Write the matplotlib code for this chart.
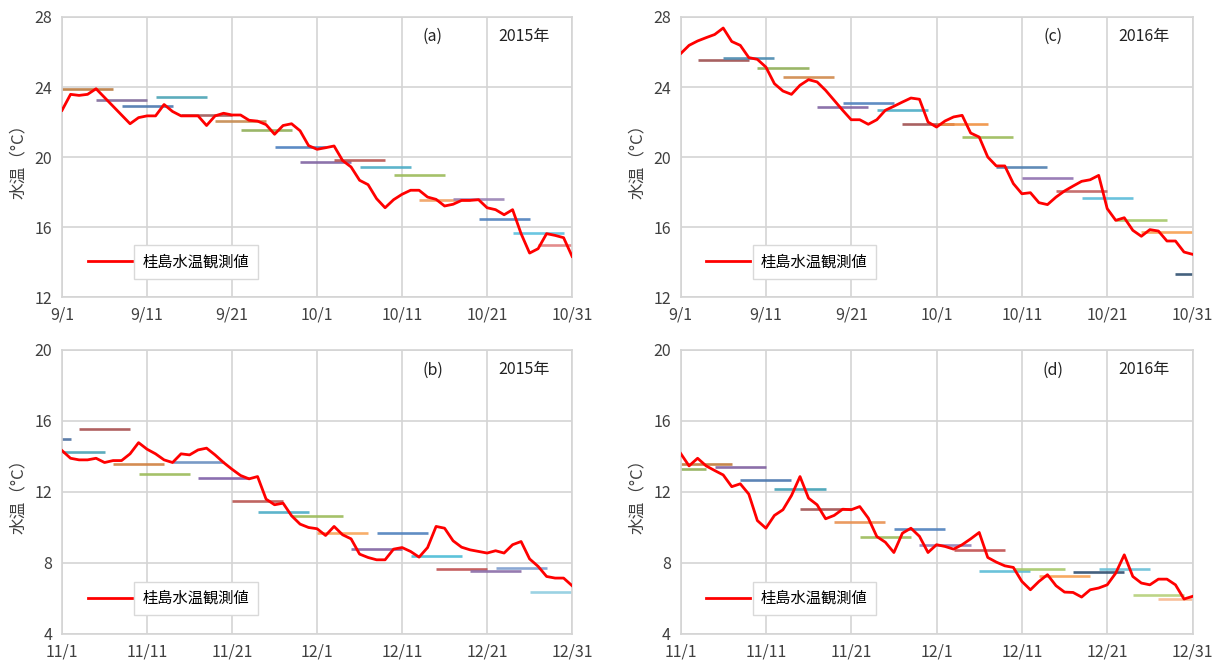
import matplotlib
matplotlib.use("Agg")
from matplotlib import pyplot as plt

# 桂島 水温 観測値 (日平均) と 予測値 (7日間)
# 横軸は各期間の初日からの日数

sep_oct_ticks = ["9/1", "9/11", "9/21", "10/1", "10/11", "10/21", "10/31"]
nov_dec_ticks = ["11/1", "11/11", "11/21", "12/1", "12/11", "12/21", "12/31"]

# (a) 2015年 9-10月
obs_a = [22.67, 23.58, 23.52, 23.58, 23.9, 23.4, 22.9, 22.4, 21.9, 22.25,
         22.35, 22.35, 23.0, 22.6, 22.35, 22.35, 22.35, 21.8, 22.35, 22.5,
         22.4, 22.4, 22.1, 22.05, 21.85, 21.3, 21.8, 21.9, 21.5, 20.65,
         20.44, 20.53, 20.63, 19.8, 19.43, 18.67, 18.42, 17.62, 17.1, 17.56,
         17.87, 18.1, 18.1, 17.71, 17.58, 17.2, 17.3, 17.52, 17.52, 17.56,
         17.1, 16.99, 16.7, 16.99, 15.62, 14.51, 14.76, 15.62, 15.52, 15.39,
         14.32]
fc_start_a = [0, 4, 7, 11, 14, 18, 21, 25, 28, 32, 35, 39, 42, 46, 49, 53, 56]
fc_val_a = [23.89, 23.28, 22.9, 23.43, 22.42, 22.06, 21.56, 20.57, 19.7,
            19.85, 19.43, 19.0, 17.56, 17.58, 16.46, 15.68, 15.0]

# (b) 2015年 11-12月
obs_b = [14.33, 13.9, 13.81, 13.81, 13.9, 13.66, 13.77, 13.77, 14.15, 14.78,
         14.41, 14.15, 13.81, 13.66, 14.15, 14.09, 14.37, 14.47, 14.09, 13.66,
         13.28, 12.93, 12.74, 12.87, 11.6, 11.28, 11.37, 10.66, 10.19, 10.0,
         9.93, 9.55, 10.06, 9.59, 9.36, 8.5, 8.31, 8.18, 8.18, 8.78,
         8.87, 8.65, 8.33, 8.87, 10.06, 9.96, 9.25, 8.89, 8.74, 8.65,
         8.56, 8.69, 8.56, 9.03, 9.21, 8.23, 7.81, 7.24, 7.15, 7.15,
         6.72]
fc_start_b = [-5, -1, 2, 6, 9, 13, 16, 20, 23, 27, 30, 34, 37, 41, 44, 48, 51, 55]
fc_val_b = [14.97, 14.28, 15.55, 13.58, 13.0, 13.71, 12.78, 11.52, 10.9,
            10.66, 9.68, 8.78, 9.68, 8.37, 7.65, 7.56, 7.71, 6.34]

# (c) 2016年 9-10月
obs_c = [25.9, 26.38, 26.63, 26.82, 27.0, 27.37, 26.6, 26.38, 25.68, 25.58,
         25.14, 24.19, 23.77, 23.58, 24.1, 24.42, 24.29, 23.81, 23.24, 22.67,
         22.13, 22.13, 21.87, 22.13, 22.67, 22.9, 23.14, 23.37, 23.3, 22.0,
         21.71, 22.06, 22.29, 22.38, 21.37, 21.14, 20.0, 19.49, 19.49, 18.48,
         17.9, 17.96, 17.39, 17.28, 17.71, 18.06, 18.34, 18.61, 18.7, 18.95,
         17.05, 16.38, 16.53, 15.81, 15.47, 15.85, 15.77, 15.2, 15.2, 14.57,
         14.44]
fc_start_c = [2, 5, 9, 12, 16, 19, 23, 26, 30, 33, 37, 40, 44, 47, 51, 54, 58]
fc_val_c = [25.56, 25.66, 25.09, 24.57, 22.86, 23.1, 22.67, 21.87, 21.87,
            21.14, 19.43, 18.8, 18.06, 17.66, 16.38, 15.71, 13.3]

# (d) 2016年 11-12月
obs_d = [14.18, 13.47, 13.9, 13.47, 13.21, 12.96, 12.3, 12.46, 11.88, 10.39,
         9.96, 10.68, 11.0, 11.8, 12.87, 11.65, 11.28, 10.49, 10.68, 11.03,
         11.0, 11.18, 10.53, 9.49, 9.17, 8.59, 9.68, 9.96, 9.5, 8.59,
         9.03, 8.93, 8.78, 9.03, 9.36, 9.72, 8.31, 8.05, 7.84, 7.75,
         6.96, 6.49, 6.96, 7.34, 6.72, 6.36, 6.34, 6.08, 6.49, 6.59,
         6.77, 7.43, 8.46, 7.24, 6.87, 6.77, 7.09, 7.09, 6.77, 5.97,
         6.12]
fc_start_d = [-3, 0, 4, 7, 11, 14, 18, 21, 25, 28, 32, 35, 39, 42, 46, 49, 53, 56]
fc_val_d = [13.28, 13.58, 13.43, 12.68, 12.18, 11.03, 10.3, 9.44, 9.93, 8.99,
            8.74, 7.56, 7.68, 7.29, 7.49, 7.65, 6.17, 5.97]

# 予測線の色 (エクセル風)
colors_a = ["#b97a3e", "#7f6a9a", "#4a77ae", "#4aa3b5", "#9e5a5a", "#c68a4f",
            "#8fae57", "#4a7fbf", "#8064a2", "#b85450", "#4bacc6", "#9bbb59",
            "#f0a060", "#9983b5", "#4f81bd", "#5bc0de", "#e08080"]
colors_b = ["#4a6fa0", "#4aa3b5", "#a85050", "#d08040", "#9bbb59", "#6a8fc0",
            "#7f5fa8", "#b85450", "#4bacc6", "#9bbb59", "#f7a55a", "#8064a2",
            "#4f81bd", "#4bbcd6", "#c05050", "#8a6ca8", "#7f9fd0", "#90cde0"]
colors_c = ["#9e5050", "#4a8ab0", "#8fae57", "#d0884a", "#8064a2", "#4f81bd",
            "#4bacc6", "#a05050", "#f09040", "#9bbb59", "#4f7fb0", "#9070b0",
            "#c06060", "#5bbcda", "#a5c86a", "#f7a050", "#2f5070"]
colors_d = ["#8fae57", "#c07a3a", "#7f5fa0", "#4a77ae", "#3fa0b5", "#a05050",
            "#e89050", "#9bbb59", "#4f81bd", "#9080b8", "#c05050", "#5bbcd6",
            "#a5c86a", "#f7a050", "#2f4f70", "#6bc0d8", "#b5d07a", "#f8b890"]

plt.rcParams["font.family"] = ["Noto Sans CJK JP", "DejaVu Sans"]

fig = plt.figure(figsize=(12.24, 6.64), dpi=100)

panels = [
    ([0.0507, 0.5527, 0.4167, 0.4217], obs_a, fc_start_a, fc_val_a, colors_a,
     sep_oct_ticks, (12, 28), "(a)", "2015年"),
    ([0.0507, 0.0452, 0.4167, 0.4277], obs_b, fc_start_b, fc_val_b, colors_b,
     nov_dec_ticks, (4, 20), "(b)", "2015年"),
    ([0.556, 0.5527, 0.4183, 0.4217], obs_c, fc_start_c, fc_val_c, colors_c,
     sep_oct_ticks, (12, 28), "(c)", "2016年"),
    ([0.556, 0.0452, 0.4183, 0.4277], obs_d, fc_start_d, fc_val_d, colors_d,
     nov_dec_ticks, (4, 20), "(d)", "2016年"),
]

for rect, obs, starts, vals, cols, ticks, ylim, tag, year in panels:
    ax = fig.add_axes(rect)
    days = list(range(len(obs)))

    # 予測 (7日間の平均)
    for s, v, c in zip(starts, vals, cols):
        ax.plot([s, s + 6], [v, v], color=c, lw=1.9, alpha=0.9,
                solid_capstyle="butt")

    ax.plot(days, obs, color="#ff0000", lw=2.0, label="桂島水温観測値", zorder=5)

    ax.set_xlim(0, 60)
    ax.set_ylim(*ylim)
    ax.set_xticks(range(0, 61, 10))
    ax.set_xticklabels(ticks)
    ax.set_yticks(range(ylim[0], ylim[1] + 1, 4))
    ax.grid(True, color="#d4d4d4", lw=1.2)
    ax.set_axisbelow(True)
    for sp in ax.spines.values():
        sp.set_color("#d4d4d4")
        sp.set_linewidth(1.2)
    ax.tick_params(length=0, labelsize=11.5, colors="#404040", pad=7)

    ax.set_ylabel("水温（°C）", fontsize=12, color="#404040")
    ax.yaxis.set_label_coords(-0.068, 0.5)

    ax.text(0.727, 0.93, tag, transform=ax.transAxes, ha="center", va="center",
            fontsize=11.5, color="#222222")
    ax.text(0.906, 0.93, year, transform=ax.transAxes, ha="center",
            va="center", fontsize=11.5, color="#222222")

    leg = ax.legend(loc="center left", bbox_to_anchor=(0.035, 0.125),
                    frameon=False, fontsize=11, handlelength=2.9,
                    handletextpad=0.7, borderpad=0)
    for t in leg.get_texts():
        t.set_bbox(dict(boxstyle="square,pad=0.55", facecolor="white",
                        edgecolor="#d9d9d9", lw=1))

fig.savefig("out.png", dpi=100)
